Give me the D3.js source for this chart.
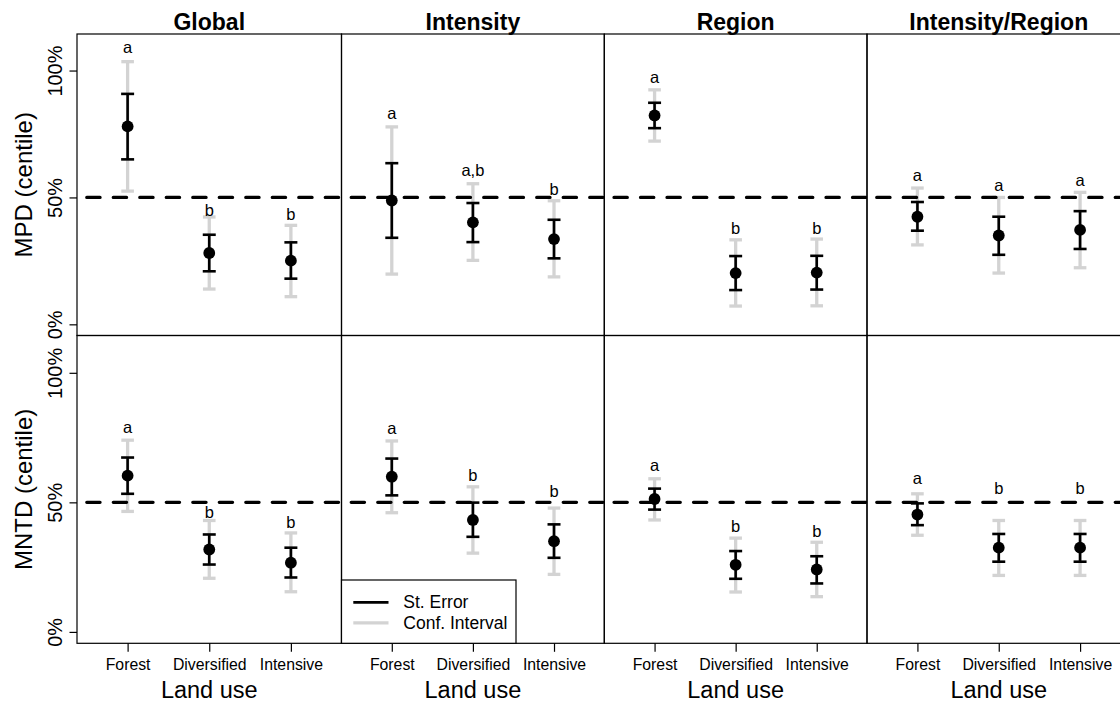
<!DOCTYPE html>
<html>
<head>
<meta charset="utf-8">
<script src="https://cdn.jsdelivr.net/npm/d3@7/dist/d3.min.js"></script>
<style>
  html, body { margin: 0; padding: 0; background: #fff; }
  svg { display: block; font-family: "Liberation Sans", Arial, Helvetica, sans-serif; }
</style>
</head>
<body>
<svg id="chart" width="1120" height="704"></svg>
<script>
// Categories and panel labels
const landUse = ["Forest", "Diversified", "Intensive"];
const models = ["Global", "Intensity", "Region", "Intensity/Region"];
const metrics = ["MPD (centile)", "MNTD (centile)"];
const yTicks = [0, 50, 100];
const nullLevel = 50;

// MPD centiles: one row per model, one value per land use
const mpdMean = [[78.0, 28.1, 25.1], [48.8, 40.2, 33.6], [82.3, 20.2, 20.4], [42.4, 35.0, 37.2]];
const mpdSeLow = [[65.0, 20.9, 18.0], [34.1, 32.4, 26.0], [77.3, 13.5, 13.7], [36.9, 27.4, 29.7]];
const mpdSeHigh = [[90.8, 35.3, 32.3], [63.5, 47.8, 41.2], [87.3, 26.9, 27.0], [48.2, 42.4, 44.6]];
const mpdCiLow = [[52.5, 13.9, 10.9], [19.8, 25.2, 18.7], [72.2, 7.2, 7.3], [31.3, 20.2, 22.3]];
const mpdCiHigh = [[103.5, 42.3, 39.0], [77.8, 55.4, 48.7], [92.4, 33.3, 33.6], [53.7, 50.0, 52.0]];
const mpdLetters = [["a", "b", "b"], ["a", "a,b", "b"], ["a", "b", "b"], ["a", "a", "a"]];
const mpdLetterAt = [[106.9, 42.8, 41.2], [80.9, 58.3, 51.1], [95.0, 35.7, 35.7], [56.3, 52.5, 54.6]];

// MNTD centiles
const mntdMean = [[60.3, 31.8, 26.7], [59.9, 43.2, 35.0], [51.3, 25.9, 24.1], [45.3, 32.5, 32.5]];
const mntdSeLow = [[53.3, 26.0, 21.0], [52.7, 36.7, 28.6], [47.2, 20.5, 18.7], [41.2, 27.1, 27.1]];
const mntdSeHigh = [[67.3, 37.6, 32.5], [66.9, 49.9, 41.5], [55.3, 31.2, 29.2], [49.6, 37.8, 37.8]];
const mntdCiLow = [[46.5, 20.7, 15.5], [46.0, 30.4, 22.2], [43.2, 15.4, 13.6], [37.3, 21.8, 21.8]];
const mntdCiHigh = [[74.0, 43.0, 38.2], [73.7, 56.0, 47.8], [59.1, 36.2, 34.6], [53.3, 43.0, 43.0]];
const mntdLetters = [["a", "b", "b"], ["a", "b", "b"], ["a", "b", "b"], ["a", "b", "b"]];
const mntdLetterAt = [[76.6, 43.9, 40.0], [76.3, 58.2, 52.2], [62.0, 38.6, 36.6], [57.1, 53.2, 53.2]];

const legendItems = ["St. Error", "Conf. Interval"];

const rows = [
  { mean: mpdMean, seLo: mpdSeLow, seHi: mpdSeHigh, ciLo: mpdCiLow, ciHi: mpdCiHigh, letters: mpdLetters, letterAt: mpdLetterAt },
  { mean: mntdMean, seLo: mntdSeLow, seHi: mntdSeHigh, ciLo: mntdCiLow, ciHi: mntdCiHigh, letters: mntdLetters, letterAt: mntdLetterAt }
];

// Layout
const colEdges = [77, 341.5, 604.3, 867, 1130.5];
const rowEdges = [[34, 335.5], [335.5, 643.3]];
const GREY = "#d3d3d3";

const svg = d3.select("#chart");
const defs = svg.append("defs");

// x: positions 1..3 on an extended 0.5..3.5 range
const xPad = 3 * 0.04;
const yPad = 110 * 0.04;

rows.forEach((row, r) => {
  const [top, bottom] = rowEdges[r];
  const y = d3.scaleLinear().domain([-yPad, 110 + yPad]).range([bottom, top]);

  models.forEach((model, c) => {
    const left = colEdges[c], right = colEdges[c + 1];
    const xNum = d3.scaleLinear().domain([0.5 - xPad, 3.5 + xPad]).range([left, right]);
    const x = d3.scalePoint().domain(landUse).range([xNum(1), xNum(3)]);

    const clipId = `clip-${r}-${c}`;
    defs.append("clipPath").attr("id", clipId)
      .append("rect").attr("x", left).attr("y", top).attr("width", right - left).attr("height", bottom - top);

    const g = svg.append("g");
    const pts = landUse.map((lu, i) => ({
      lu, mean: row.mean[c][i], seLo: row.seLo[c][i], seHi: row.seHi[c][i],
      ciLo: row.ciLo[c][i], ciHi: row.ciHi[c][i], letter: row.letters[c][i], letterAt: row.letterAt[c][i]
    }));

    // confidence intervals (grey)
    const ci = g.append("g").attr("stroke", GREY).attr("stroke-width", 3.3).attr("fill", "none");
    pts.forEach(d => {
      const cx = x(d.lu);
      ci.append("line").attr("x1", cx).attr("x2", cx).attr("y1", y(d.ciLo)).attr("y2", y(d.ciHi));
      ci.append("line").attr("x1", cx - 6.3).attr("x2", cx + 6.3).attr("y1", y(d.ciLo)).attr("y2", y(d.ciLo));
      ci.append("line").attr("x1", cx - 6.3).attr("x2", cx + 6.3).attr("y1", y(d.ciHi)).attr("y2", y(d.ciHi));
    });

    // reference line at the 50th centile
    g.append("line")
      .attr("clip-path", `url(#${clipId})`)
      .attr("x1", xNum(0.5)).attr("x2", right + 20)
      .attr("y1", y(nullLevel)).attr("y2", y(nullLevel))
      .attr("stroke", "#000").attr("stroke-width", 3.3)
      .attr("stroke-dasharray", "13.25,13.25").attr("stroke-linecap", "round");

    // standard errors (black)
    const se = g.append("g").attr("stroke", "#000").attr("stroke-width", 2.6).attr("fill", "none");
    pts.forEach(d => {
      const cx = x(d.lu);
      se.append("line").attr("x1", cx).attr("x2", cx).attr("y1", y(d.seLo)).attr("y2", y(d.seHi));
      se.append("line").attr("x1", cx - 6.5).attr("x2", cx + 6.5).attr("y1", y(d.seLo)).attr("y2", y(d.seLo));
      se.append("line").attr("x1", cx - 6.5).attr("x2", cx + 6.5).attr("y1", y(d.seHi)).attr("y2", y(d.seHi));
    });

    // means
    g.selectAll("circle.mean").data(pts).join("circle")
      .attr("class", "mean")
      .attr("cx", d => x(d.lu)).attr("cy", d => y(d.mean)).attr("r", 5.9).attr("fill", "#000");

    // significance letters
    g.selectAll("text.letter").data(pts).join("text")
      .attr("class", "letter")
      .attr("x", d => x(d.lu)).attr("y", d => y(d.letterAt))
      .attr("text-anchor", "middle").attr("font-size", 16.5).attr("fill", "#000")
      .text(d => d.letter);

    // panel frame
    svg.append("rect")
      .attr("x", left).attr("y", top).attr("width", right - left).attr("height", bottom - top)
      .attr("fill", "none").attr("stroke", "#000").attr("stroke-width", 1.2);

    // column titles
    if (r === 0) {
      svg.append("text")
        .attr("x", (left + right) / 2).attr("y", 29.5)
        .attr("text-anchor", "middle").attr("font-size", 23).attr("font-weight", "bold")
        .text(model);
    }

    // y axis on the first column
    if (c === 0) {
      const yAxis = d3.axisLeft(y).tickValues(yTicks).tickSize(7.5).tickFormat(d => d + "%");
      const ax = svg.append("g").attr("transform", `translate(${left},0)`).call(yAxis);
      ax.select(".domain").remove();
      ax.selectAll(".tick line").attr("stroke", "#000").attr("stroke-width", 1.2);
      ax.selectAll(".tick text")
        .attr("font-size", 20).attr("fill", "#000")
        .attr("x", null).attr("dy", null)
        .attr("text-anchor", "middle")
        .attr("transform", "translate(-15.3,0) rotate(-90)");
      svg.append("text")
        .attr("transform", `translate(32,${(top + bottom) / 2}) rotate(-90)`)
        .attr("text-anchor", "middle").attr("font-size", 24)
        .text(metrics[r]);
    }

    // x axis on the bottom row
    if (r === 1) {
      const xAxis = d3.axisBottom(x).tickSize(8.5).tickPadding(0);
      const ax = svg.append("g").attr("transform", `translate(0,${bottom})`).call(xAxis);
      ax.select(".domain").remove();
      ax.selectAll(".tick line").attr("stroke", "#000").attr("stroke-width", 1.2);
      ax.selectAll(".tick text")
        .attr("font-size", 15.8).attr("fill", "#000")
        .attr("dy", null).attr("y", 670.5 - bottom);
      svg.append("text")
        .attr("x", (left + right) / 2).attr("y", 698)
        .attr("text-anchor", "middle").attr("font-size", 23.5)
        .text("Land use");
    }
  });
});

// legend in the lower Intensity panel
const lg = svg.append("g");
lg.append("rect")
  .attr("x", colEdges[1]).attr("y", 580).attr("width", 516 - colEdges[1]).attr("height", rowEdges[1][1] - 580)
  .attr("fill", "#fff").attr("stroke", "#000").attr("stroke-width", 1.2);
legendItems.forEach((label, i) => {
  const ly = 602.3 + i * 20.5;
  lg.append("line")
    .attr("x1", 353.3).attr("x2", 388.5).attr("y1", ly).attr("y2", ly)
    .attr("stroke", i === 0 ? "#000" : GREY).attr("stroke-width", i === 0 ? 2.8 : 3.3);
  lg.append("text")
    .attr("x", 403.3).attr("y", ly + 6)
    .attr("font-size", 17.5).text(label);
});
</script>
</body>
</html>
